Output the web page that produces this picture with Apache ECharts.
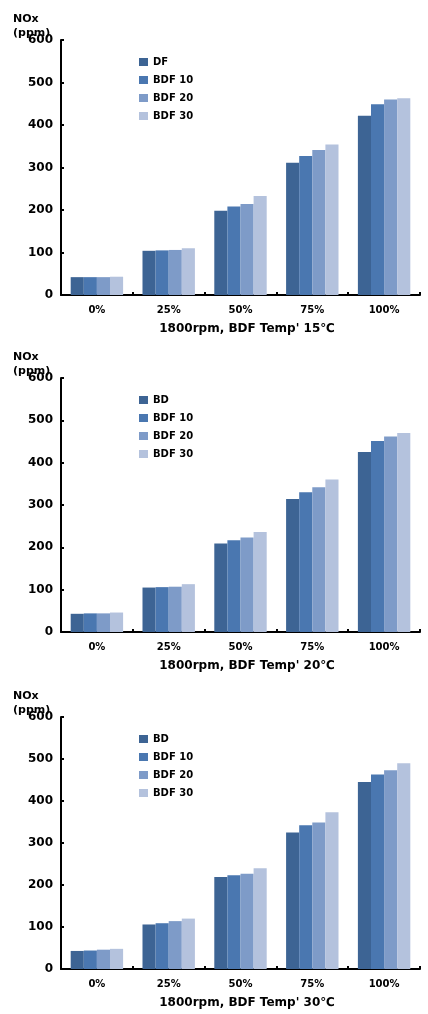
<!DOCTYPE html>
<html>
<head>
<meta charset="utf-8">
<script src="https://cdn.jsdelivr.net/npm/echarts@6/dist/echarts.min.js"></script>
<style>
  html, body { margin: 0; padding: 0; background: #fff; }
  #chart { width: 428px; height: 1014px; }
</style>
</head>
<body>
<div id="chart"></div>
<script>
const loads = ["0%", "25%", "50%", "75%", "100%"]
const yTicks = [0, 100, 200, 300, 400, 500, 600]
const colors = ["#3d6494", "#4a77b0", "#7e9bc8", "#b4c2dd"]

const names15 = ["DF", "BDF 10", "BDF 20", "BDF 30"]
const names20 = ["BD", "BDF 10", "BDF 20", "BDF 30"]
const names30 = ["BD", "BDF 10", "BDF 20", "BDF 30"]

const temp15 = [
  [42, 104, 198, 311, 422],
  [42, 105, 208, 327, 449],
  [42, 106, 214, 341, 460],
  [43, 110, 233, 354, 463]
]
const temp20 = [
  [43, 105, 209, 314, 425],
  [44, 106, 217, 330, 451],
  [44, 107, 223, 342, 462],
  [46, 113, 236, 360, 470]
]
const temp30 = [
  [43, 106, 219, 325, 445],
  [44, 109, 223, 342, 463],
  [46, 114, 227, 349, 473],
  [48, 120, 240, 373, 490]
]

const titles = ["1800rpm, BDF Temp' 15\u2103", "1800rpm, BDF Temp' 20\u2103", "1800rpm, BDF Temp' 30\u2103"]
const panels = [
  { names: names15, data: temp15, top: 40, bottom: 295 },
  { names: names20, data: temp20, top: 378, bottom: 632 },
  { names: names30, data: temp30, top: 717, bottom: 969 }
]

const font = "Verdana, 'DejaVu Sans', sans-serif"
const grid = [], xAxis = [], yAxis = [], series = [], legend = [], title = []

panels.forEach((p, i) => {
  grid.push({ left: 61, right: 8, top: p.top, height: p.bottom - p.top })
  xAxis.push({
    type: "category", gridIndex: i, data: loads,
    axisLine: { lineStyle: { color: "#000", width: 2 } },
    axisTick: { show: true, inside: true, length: 3, lineStyle: { color: "#000", width: 2 } },
    axisLabel: { color: "#000", fontWeight: "bold", fontSize: 10, fontFamily: font, margin: 10 }
  })
  yAxis.push({
    type: "value", gridIndex: i, min: 0, max: 600, interval: 100,
    axisLine: { show: true, lineStyle: { color: "#000", width: 2 } },
    axisTick: { show: true, inside: true, length: 3, lineStyle: { color: "#000", width: 2 } },
    splitLine: { show: false },
    axisLabel: { color: "#000", fontWeight: "bold", fontSize: 12, fontFamily: font, margin: 8 }
  })
  p.names.forEach((n, k) => {
    series.push({
      type: "bar", name: n, xAxisIndex: i, yAxisIndex: i,
      data: p.data[k], barGap: "0%", barCategoryGap: "27%",
      itemStyle: { color: colors[k] }
    })
  })
  legend.push({
    data: p.names, orient: "vertical", left: 134, top: p.top + 12,
    itemWidth: 9, itemHeight: 8, itemGap: 8, icon: "rect",
    textStyle: { fontWeight: "bold", fontSize: 10, fontFamily: font, color: "#000" },
    selectedMode: false
  })
  title.push({
    text: "NOx\n(ppm)", left: 8, top: p.top - 33,
    textStyle: { fontWeight: "bold", fontSize: 11, lineHeight: 14, fontFamily: font, color: "#000" }
  })
  title.push({
    text: titles[i], left: 242, top: p.bottom + 23, textAlign: "center",
    textStyle: { fontWeight: "bold", fontSize: 12, fontFamily: font, color: "#000" }
  })
})

// legends with same names: give each legend its own series via distinct instances
const chart = echarts.init(document.getElementById("chart"))
chart.setOption({ animation: false, title, grid, xAxis, yAxis, legend, series })
</script>
</body>
</html>
